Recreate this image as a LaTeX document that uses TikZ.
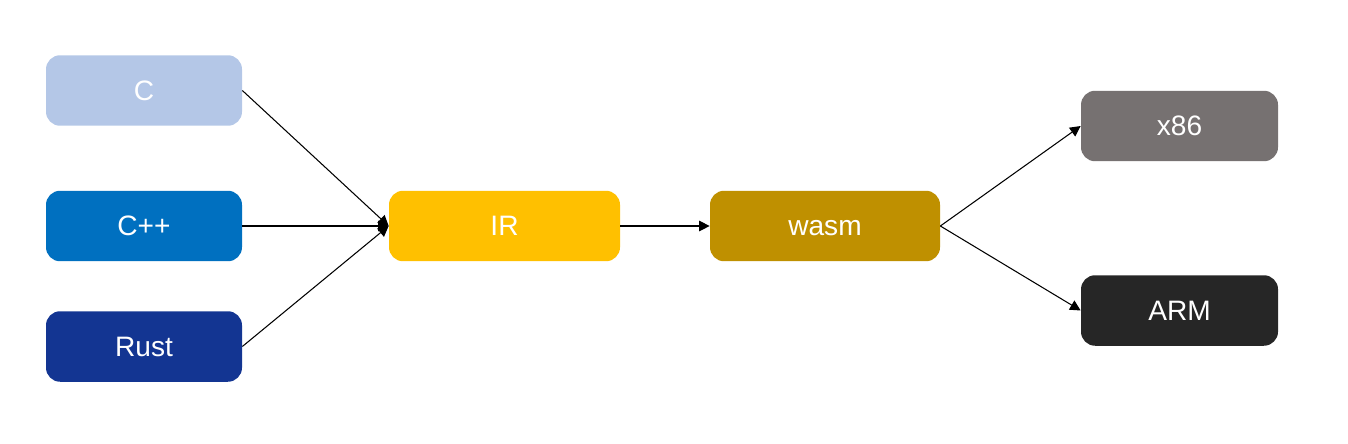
\documentclass[tikz,border=0pt]{standalone}
\usepackage{fontspec}
\setmainfont{Liberation Sans}
\usetikzlibrary{arrows.meta}
\definecolor{clight}{HTML}{B4C7E7}
\definecolor{cppblue}{HTML}{0070C0}
\definecolor{rustblue}{HTML}{133592}
\definecolor{irgold}{HTML}{FFC000}
\definecolor{wasmgold}{HTML}{BF9000}
\definecolor{xgray}{HTML}{767171}
\definecolor{armdark}{HTML}{262626}
\tikzset{
    box/.style={rounded corners=8pt, text=white, inner sep=0pt,
                minimum width=#1*0.02cm, minimum height=1.41cm,
                text height=11pt, text depth=0pt,
                font=\fontsize{16}{19}\selectfont},
    box/.default=196,
    link/.style={-{Triangle[length=6pt,width=6pt]}, line width=0.6pt}
}
\begin{document}
\begin{tikzpicture}[x=0.02cm,y=-0.02cm]
    \useasboundingbox (0,0) rectangle (1348,443);

    \node[box, fill=clight] (c) at (144,90.5) {C};
    \node[box, fill=cppblue] (cpp) at (144,226) {C++};
    \node[box, fill=rustblue] (rust) at (144,346.5) {Rust};

    \node[box=231, fill=irgold] (ir) at (504.5,226) {IR};
    \node[box=230, fill=wasmgold] (wasm) at (825,226) {wasm};

    \node[box=197, fill=xgray] (x86) at (1179.5,126) {x86};
    \node[box=197, fill=armdark] (arm) at (1179.5,310.5) {ARM};

    \draw[link] (c.east) -- (ir.west);
    \draw[link] (cpp.east) -- (ir.west);
    \draw[link] (rust.east) -- (ir.west);
    \draw[link] (ir.east) -- (wasm.west);
    \draw[link] (wasm.east) -- (x86.west);
    \draw[link] (wasm.east) -- (arm.west);
\end{tikzpicture}
\end{document}
